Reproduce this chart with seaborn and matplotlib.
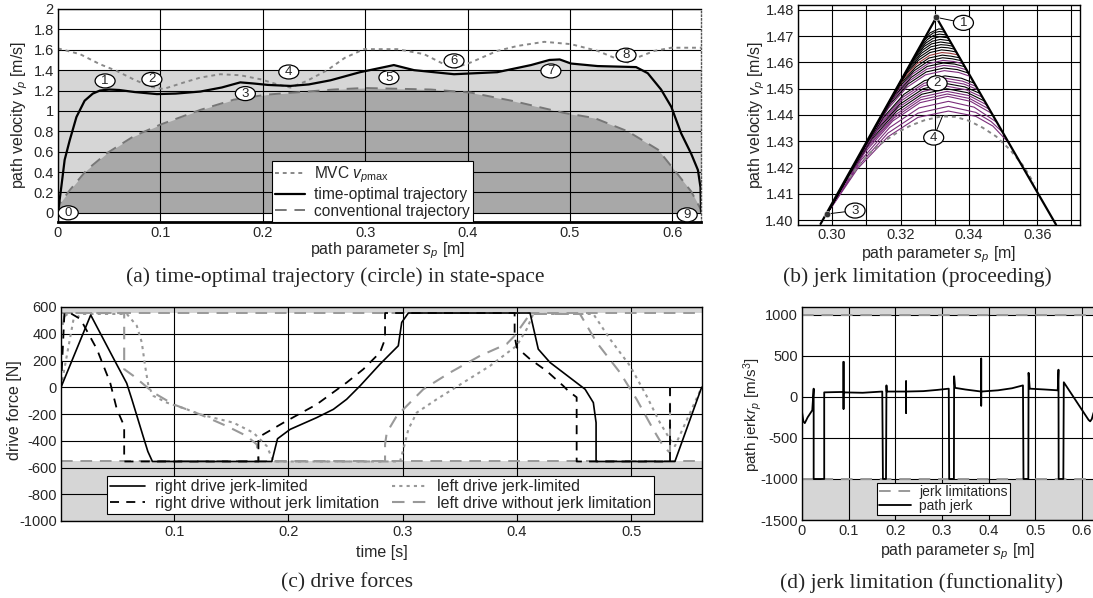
import numpy as np
import matplotlib
matplotlib.use("Agg")
import matplotlib.pyplot as plt
import seaborn as sns
from matplotlib.lines import Line2D
from matplotlib.patches import Ellipse

# ---------------- data ----------------
# (a) state space
mvc_s = [0.000, 0.0215, 0.041, 0.0574, 0.0737, 0.090, 0.103, 0.1226, 0.139, 0.1585, 0.178, 0.198, 0.214,
         0.227, 0.243, 0.263, 0.280, 0.2988, 0.3314, 0.3575, 0.377, 0.3885, 0.403, 0.429, 0.449, 0.475,
         0.501, 0.527, 0.5467, 0.5564, 0.566, 0.5825, 0.599, 0.628]
mvc_v = [1.613, 1.557, 1.458, 1.392, 1.310, 1.238, 1.215, 1.278, 1.327, 1.360, 1.350, 1.310, 1.261,
         1.229, 1.294, 1.400, 1.520, 1.606, 1.606, 1.557, 1.458, 1.425, 1.475, 1.589, 1.638, 1.678,
         1.655, 1.589, 1.507, 1.475, 1.524, 1.589, 1.620, 1.620]

topt_s = [0.000, 0.0033, 0.0065, 0.0114, 0.018, 0.026, 0.034, 0.041, 0.050, 0.060, 0.075, 0.0966, 0.115,
          0.139, 0.160, 0.178, 0.190, 0.205, 0.227, 0.245, 0.266, 0.295, 0.3239, 0.328, 0.3477, 0.3868,
          0.429, 0.462, 0.480, 0.490, 0.501, 0.527, 0.5646, 0.576, 0.589, 0.599, 0.6086, 0.6184,
          0.625, 0.6275, 0.628]
topt_v = [0.000, 0.26, 0.52, 0.71, 0.94, 1.10, 1.17, 1.20, 1.21, 1.205, 1.185, 1.165, 1.17,
          1.19, 1.23, 1.28, 1.27, 1.255, 1.245, 1.26, 1.30, 1.38, 1.441, 1.45, 1.40, 1.36,
          1.38, 1.45, 1.50, 1.505, 1.465, 1.44, 1.43, 1.37, 1.21, 1.04, 0.78, 0.58,
          0.42, 0.25, 0.01]
band_top = 1.40   # upper edge of the light grey region

conv_s = [0.000, 0.002, 0.0117, 0.028, 0.0477, 0.0737, 0.0998, 0.139, 0.1716, 0.204, 0.2694, 0.2988,
          0.364, 0.403, 0.4455, 0.4944, 0.524, 0.5564, 0.586, 0.602, 0.6184, 0.628]
conv_v = [0.000, 0.095, 0.225, 0.42, 0.585, 0.75, 0.865, 1.01, 1.11, 1.16, 1.21, 1.225,
          1.21, 1.18, 1.095, 0.98, 0.93, 0.80, 0.62, 0.42, 0.21, 0.03]

marks_a = ['0', '1', '2', '3', '4', '5', '6', '7', '8', '9']
marks_a_s = [0.010, 0.046, 0.0917, 0.183, 0.2254, 0.3232, 0.3868, 0.4814, 0.5548, 0.6145]
marks_a_v = [0.00, 1.294, 1.31, 1.17, 1.382, 1.327, 1.491, 1.392, 1.547, -0.02]

# (b) jerk limitation, proceeding
left_s = [0.2966, 0.33046]
left_v = [1.3985, 1.4772]
right_s = [0.33046, 0.3655]
right_v = [1.4772, 1.3982]
mvcb_s = [0.3050, 0.3080, 0.3110, 0.3150, 0.3190, 0.3230, 0.3270, 0.3320, 0.3360, 0.3400, 0.3440,
          0.3480, 0.3520, 0.3560, 0.3590]
mvcb_v = [1.4160, 1.4212, 1.4255, 1.4298, 1.4333, 1.4360, 1.4380, 1.4395, 1.4393, 1.4378, 1.4352,
          1.4318, 1.4268, 1.4205, 1.4140]
fan_s = [
    [0.2985, 0.3074, 0.3163, 0.3251, 0.3340, 0.3420, 0.3470, 0.3518],
    [0.2985, 0.3074, 0.3163, 0.3251, 0.3340, 0.3420, 0.3465, 0.3498],
    [0.2985, 0.2997, 0.3083, 0.3168, 0.3254, 0.3340, 0.3415, 0.3482],
    [0.2985, 0.3015, 0.3096, 0.3177, 0.3257, 0.3338, 0.3405, 0.3467],
    [0.2985, 0.3024, 0.3102, 0.3181, 0.3259, 0.3337, 0.3402, 0.3460],
    [0.2985, 0.3033, 0.3109, 0.3185, 0.3260, 0.3336, 0.3400, 0.3453],
    [0.2985, 0.3043, 0.3116, 0.3189, 0.3262, 0.3335, 0.3396, 0.3446],
    [0.2985, 0.3052, 0.3123, 0.3193, 0.3264, 0.3334, 0.3392, 0.3439],
    [0.2985, 0.3062, 0.3130, 0.3198, 0.3266, 0.3333, 0.3388, 0.3433],
    [0.2985, 0.3071, 0.3137, 0.3202, 0.3267, 0.3332, 0.3385, 0.3427],
    [0.2985, 0.3081, 0.3144, 0.3206, 0.3269, 0.3331, 0.3381, 0.3421],
    [0.2985, 0.3090, 0.3150, 0.3210, 0.3270, 0.3330, 0.3378, 0.3416],
    [0.2985, 0.3109, 0.3164, 0.3218, 0.3273, 0.3328, 0.3370, 0.3404],
    [0.2985, 0.3118, 0.3170, 0.3222, 0.3275, 0.3327, 0.3366, 0.3398],
    [0.2985, 0.3128, 0.3177, 0.3227, 0.3277, 0.3326, 0.3362, 0.3393],
    [0.2985, 0.3137, 0.3184, 0.3231, 0.3278, 0.3325, 0.3358, 0.3388],
    [0.2985, 0.3146, 0.3191, 0.3235, 0.3280, 0.3324, 0.3355, 0.3383],
    [0.2985, 0.3155, 0.3197, 0.3240, 0.3282, 0.3323, 0.3351, 0.3378],
    [0.2985, 0.3165, 0.3204, 0.3244, 0.3283, 0.3322, 0.3348, 0.3373],
    [0.2985, 0.3174, 0.3211, 0.3248, 0.3285, 0.3321, 0.3345, 0.3368],
    [0.2985, 0.3184, 0.3218, 0.3252, 0.3286, 0.3320, 0.3342, 0.3363],
    [0.2985, 0.3193, 0.3225, 0.3256, 0.3288, 0.3319, 0.3339, 0.3358],
    [0.2985, 0.3203, 0.3232, 0.3261, 0.3289, 0.3318, 0.3336, 0.3353],
    [0.2985, 0.3212, 0.3239, 0.3265, 0.3291, 0.3317, 0.3349],
    [0.2985, 0.3222, 0.3246, 0.3269, 0.3293, 0.3316, 0.3344],
    [0.2985, 0.3232, 0.3253, 0.3274, 0.3295, 0.3315, 0.3339],
    [0.2985, 0.3242, 0.3260, 0.3278, 0.3296, 0.3314, 0.3334],
    [0.2985, 0.3251, 0.3273, 0.3295, 0.3313, 0.3330],
    [0.2985, 0.3261, 0.3286, 0.3312, 0.3325],
]
fan_v = [
    [1.4023, 1.4195, 1.4317, 1.4391, 1.4415, 1.4395, 1.4358, 1.4292],
    [1.4023, 1.4202, 1.4331, 1.4407, 1.4433, 1.4410, 1.4375, 1.4335],
    [1.4023, 1.4050, 1.4226, 1.4352, 1.4427, 1.4452, 1.4430, 1.4372],
    [1.4023, 1.4093, 1.4258, 1.4377, 1.4447, 1.4471, 1.4452, 1.4406],
    [1.4023, 1.4115, 1.4275, 1.4389, 1.4458, 1.4480, 1.4463, 1.4422],
    [1.4023, 1.4136, 1.4291, 1.4401, 1.4468, 1.4490, 1.4474, 1.4438],
    [1.4023, 1.4158, 1.4308, 1.4415, 1.4479, 1.4500, 1.4485, 1.4453],
    [1.4023, 1.4180, 1.4325, 1.4428, 1.4489, 1.4510, 1.4496, 1.4468],
    [1.4023, 1.4203, 1.4342, 1.4441, 1.4500, 1.4520, 1.4507, 1.4482],
    [1.4023, 1.4225, 1.4358, 1.4454, 1.4511, 1.4530, 1.4518, 1.4496],
    [1.4023, 1.4247, 1.4375, 1.4467, 1.4521, 1.4540, 1.4529, 1.4509],
    [1.4023, 1.4268, 1.4391, 1.4479, 1.4531, 1.4549, 1.4540, 1.4521],
    [1.4023, 1.4313, 1.4425, 1.4505, 1.4553, 1.4569, 1.4562, 1.4547],
    [1.4023, 1.4335, 1.4442, 1.4518, 1.4564, 1.4579, 1.4573, 1.4560],
    [1.4023, 1.4357, 1.4459, 1.4531, 1.4575, 1.4589, 1.4584, 1.4572],
    [1.4023, 1.4378, 1.4475, 1.4543, 1.4585, 1.4598, 1.4594, 1.4584],
    [1.4023, 1.4400, 1.4491, 1.4556, 1.4595, 1.4608, 1.4604, 1.4595],
    [1.4023, 1.4422, 1.4508, 1.4569, 1.4606, 1.4618, 1.4614, 1.4607],
    [1.4023, 1.4444, 1.4525, 1.4582, 1.4617, 1.4628, 1.4624, 1.4618],
    [1.4023, 1.4466, 1.4542, 1.4595, 1.4627, 1.4638, 1.4635, 1.4629],
    [1.4023, 1.4489, 1.4559, 1.4608, 1.4638, 1.4648, 1.4645, 1.4640],
    [1.4023, 1.4511, 1.4576, 1.4621, 1.4649, 1.4658, 1.4656, 1.4651],
    [1.4023, 1.4534, 1.4593, 1.4635, 1.4660, 1.4668, 1.4666, 1.4662],
    [1.4023, 1.4556, 1.4610, 1.4648, 1.4671, 1.4678, 1.4672],
    [1.4023, 1.4579, 1.4626, 1.4661, 1.4681, 1.4688, 1.4683],
    [1.4023, 1.4601, 1.4643, 1.4674, 1.4692, 1.4698, 1.4694],
    [1.4023, 1.4623, 1.4660, 1.4687, 1.4703, 1.4708, 1.4705],
    [1.4023, 1.4645, 1.4690, 1.4712, 1.4718, 1.4716],
    [1.4023, 1.4668, 1.4713, 1.4728, 1.4726],
]
fan_col = ['p', 'p', 'p', 'p', 'p', 'p', 'k', 'p', 'k', 'p', 'p', 'k', 'p', 'k', 'p',
           'k', 'p', 'k', 'k', 'r', 'k', 'k', 'k', 'k', 'k', 'k', 'k', 'k', 'k']
pts_b_s = [0.33046, 0.2985]
pts_b_v = [1.4772, 1.4023]
marks_b = ['1', '2', '3', '4']
marks_b_s = [0.3384, 0.3307, 0.3067, 0.3297]
marks_b_v = [1.4751, 1.4521, 1.4036, 1.4314]
lead_b = [(0, 0.33046, 1.4772), (2, 0.2985, 1.4023), (3, 0.3323, 1.4397)]

# (c) drive forces
force_lim = 555
rjl_t = [0.001, 0.027, 0.047, 0.0585, 0.063, 0.068, 0.073, 0.077, 0.081, 0.1855, 0.1905, 0.2015, 0.2248,
         0.2394, 0.251, 0.2627, 0.2802, 0.2962, 0.2992, 0.3050, 0.4115, 0.4187, 0.4290, 0.4597, 0.4669,
         0.4693, 0.4693, 0.5383, 0.5617]
rjl_f = [0, 540, 215, 30, -90, -230, -370, -480, -555, -555, -385, -315, -227,
         -165, -90, 10, 173, 310, 485, 555, 555, 285, 185, -15, -115,
         -265, -555, -555, 0]
rno_t = [0.001, 0.004, 0.009, 0.018, 0.0324, 0.044, 0.0499, 0.0563, 0.0563, 0.1738, 0.1738, 0.178, 0.1957,
         0.2248, 0.251, 0.2656, 0.2802, 0.2846, 0.2846, 0.398, 0.398, 0.3998, 0.4115, 0.426, 0.4406,
         0.445, 0.4523, 0.4523, 0.534, 0.534]
rno_f = [0, 555, 555, 510, 285, 35, -165, -290, -555, -555, -377, -353, -265,
         -128, 35, 135, 260, 360, 555, 555, 385, 298, 210, 122, 10,
         -28, -75, -555, -555, 0]
ljl_t = [0.001, 0.012, 0.020, 0.0586, 0.0673, 0.0717, 0.0746, 0.0775, 0.0819, 0.0936, 0.1111, 0.1227,
         0.1519, 0.1694, 0.1811, 0.1869, 0.2977, 0.3006, 0.305, 0.3123, 0.3298, 0.3531, 0.3765, 0.3998,
         0.4086, 0.4143, 0.4669, 0.4815, 0.499, 0.5135, 0.5252, 0.534, 0.5383, 0.5617]
ljl_f = [0, 510, 548, 548, 460, 335, 160, 10, -65, -115, -165, -203,
         -265, -340, -440, -555, -555, -465, -315, -190, -90, 35, 160, 310,
         435, 548, 548, 360, 160, -65, -265, -390, -440, 0]
lno_t = [0.001, 0.001, 0.004, 0.008, 0.0563, 0.0563, 0.0644, 0.0819, 0.0994, 0.1227, 0.146, 0.1636, 0.1724,
         0.1738, 0.2846, 0.2846, 0.2861, 0.2948, 0.3181, 0.3415, 0.3677, 0.391, 0.398, 0.4115, 0.4552,
         0.4698, 0.4902, 0.5048, 0.5193, 0.528, 0.534, 0.534]
lno_f = [0, 400, 530, 555, 555, 135, 85, -40, -128, -203, -290, -365, -428,
         -555, -555, -428, -340, -215, -15, 110, 235, 323, 385, 548, 548,
         335, 110, -90, -315, -440, -490, 0]

# (d) path jerk
jerk_lim = 1000
jerk_s = [0.000, 0.003, 0.006, 0.012, 0.022, 0.025, 0.025, 0.0476, 0.0476, 0.070, 0.089, 0.089, 0.089,
          0.089, 0.130, 0.172, 0.1734, 0.180, 0.181, 0.1815, 0.223, 0.223, 0.223, 0.223, 0.260, 0.290,
          0.3145, 0.3154, 0.3255, 0.326, 0.328, 0.350, 0.384, 0.384, 0.384, 0.384, 0.420, 0.450,
          0.4735, 0.4746, 0.485, 0.4855, 0.488, 0.520, 0.548, 0.5496, 0.550, 0.560, 0.561, 0.614,
          0.6175, 0.621, 0.6244, 0.630]
jerk_v = [-180, -300, -320, -250, -163, 100, -1000, -1000, 55, 58, 60, -146, 427,
          55, 50, 65, -1000, -1000, 140, 65, 65, -195, 190, 65, 70, 85,
          100, -1000, -1000, 251, 110, 90, 65, -106, 467, 65, 80, 105,
          140, -1000, -1000, 293, 100, 90, 80, 331, -1000, -1000, 178, -280,
          -298, -270, -200, -120]

# ---------------- style ----------------
sns.set_style("white")
plt.rcParams['font.family'] = ['Liberation Sans', 'DejaVu Sans']
plt.rcParams['mathtext.fontset'] = 'custom'
plt.rcParams['mathtext.rm'] = 'Liberation Sans'
plt.rcParams['mathtext.it'] = 'Liberation Sans:italic'
plt.rcParams['axes.unicode_minus'] = False

W, H = 1093, 598
fig = plt.figure(figsize=(W / 100, H / 100), dpi=100)

TICK = 10.5
LAB = 11.5


def box(l, r, t, b):
    return [l / W, 1 - b / H, (r - l) / W, (b - t) / H]


def line(ax, x, y, **kw):
    sns.lineplot(x=x, y=y, ax=ax, sort=False, estimator=None, legend=False, **kw)


def frame(ax):
    ax.grid(True, color='black', lw=0.8)
    ax.set_axisbelow('line')
    ax.tick_params(length=0, labelsize=TICK, pad=3)
    for sp in ax.spines.values():
        sp.set_color('black')
        sp.set_linewidth(1.0)


def circled(ax, x, y, txt, wpx, hpx, axw, axh):
    x0, x1 = ax.get_xlim()
    y0, y1 = ax.get_ylim()
    w = wpx * (x1 - x0) / axw
    h = hpx * (y1 - y0) / axh
    ax.add_patch(Ellipse((x, y), w, h, fc='white', ec='black', lw=0.9, zorder=6))
    ax.text(x, y, txt, ha='center', va='center', fontsize=9.5, zorder=7)


GRAY = '#999999'
PURPLE = '#7b2d7b'

# ---- (a) ----
ax = fig.add_axes(box(58, 701, 9, 222))
frame(ax)
ax.set_xlim(0, 0.628)
ax.set_ylim(-0.09, 2.0)
ax.fill_between(topt_s, 0, np.maximum(topt_v, band_top), color='#d6d6d6', lw=0, zorder=1)
ax.fill_between(conv_s, 0, conv_v, color='#a8a8a8', lw=0, zorder=1)
line(ax, mvc_s, mvc_v, color='#888888', lw=1.4, linestyle=(0, (2, 2)))
line(ax, conv_s, conv_v, color='#777777', lw=1.4, linestyle=(0, (6, 4)))
line(ax, topt_s, topt_v, color='black', lw=1.6)
for m, x, y in zip(marks_a, marks_a_s, marks_a_v):
    circled(ax, x, y, m, 20, 14, 643, 213)
ax.set_xticks([0, 0.1, 0.2, 0.3, 0.4, 0.5, 0.6])
ax.set_xticklabels(['0', '0.1', '0.2', '0.3', '0.4', '0.5', '0.6'])
ax.set_yticks([0, 0.2, 0.4, 0.6, 0.8, 1, 1.2, 1.4, 1.6, 1.8, 2])
ax.set_yticklabels(['0', '0.2', '0.4', '0.6', '0.8', '1', '1.2', '1.4', '1.6', '1.8', '2'])
ax.spines['bottom'].set_linewidth(2.0)
ax.spines['right'].set_linestyle(':')
ax.spines['right'].set_color('#555555')
ax.set_xlabel(r'path parameter $s_p$ [m]', fontsize=LAB)
ax.xaxis.set_label_coords((388 - 58) / 643, (222 - 251) / 213)
ax.xaxis.label.set_va('center')
ax.set_ylabel(r'path velocity $v_p$ [m/s]', fontsize=LAB)
ax.yaxis.set_label_coords((20 - 58) / 643, (222 - 115) / 213)
ax.yaxis.label.set_va('center')
ha = [Line2D([], [], color='#888888', lw=1.4, linestyle=(0, (2, 2))),
      Line2D([], [], color='black', lw=1.6),
      Line2D([], [], color='#777777', lw=1.4, linestyle=(0, (6, 4)))]
leg = ax.legend(ha, [r'MVC $v_{p\mathrm{max}}$', 'time-optimal trajectory', 'conventional trajectory'],
                loc='lower left', bbox_to_anchor=((272 - 58) / 643, 0.0), fontsize=11.2, frameon=True,
                fancybox=False, framealpha=1, edgecolor='black', borderpad=0.2, labelspacing=0.12,
                handlelength=1.9, handletextpad=0.6, borderaxespad=0)
leg.get_frame().set_linewidth(0.8)
leg.set_zorder(8)

# ---- (b) ----
ax = fig.add_axes(box(798, 1080, 5, 225))
frame(ax)
ax.set_xlim(0.29, 0.3725)
ax.set_ylim(1.3981, 1.4819)
cmap = {'p': PURPLE, 'k': 'black', 'r': '#9a3a3a'}
for xs, ys, c in zip(fan_s, fan_v, fan_col):
    line(ax, xs, ys, color=cmap[c], lw=0.8)
line(ax, mvcb_s, mvcb_v, color='#888888', lw=1.4, linestyle=(0, (2, 2)))
line(ax, left_s, left_v, color='black', lw=1.6)
line(ax, right_s, right_v, color='black', lw=1.6)
sns.scatterplot(x=pts_b_s, y=pts_b_v, ax=ax, color='#333333', s=22, zorder=5, legend=False)
for i, x0, y0 in lead_b:
    ax.plot([marks_b_s[i], x0], [marks_b_v[i], y0], color='black', lw=0.7, zorder=4)
for m, x, y in zip(marks_b, marks_b_s, marks_b_v):
    circled(ax, x, y, m, 20, 15, 282, 220)
ax.set_xticks([0.29, 0.30, 0.31, 0.32, 0.33, 0.34, 0.35, 0.36, 0.37])
ax.set_xticklabels(['', '0.30', '', '0.32', '', '0.34', '', '0.36', ''])
ax.set_yticks([1.40, 1.41, 1.42, 1.43, 1.44, 1.45, 1.46, 1.47, 1.48])
ax.set_yticklabels(['1.40', '1.41', '1.42', '1.43', '1.44', '1.45', '1.46', '1.47', '1.48'])
ax.tick_params(axis='x', pad=2)
ax.set_xlabel(r'path parameter $s_p$ [m]', fontsize=LAB)
ax.xaxis.set_label_coords((939 - 798) / 282, (225 - 255) / 220)
ax.xaxis.label.set_va('center')
ax.set_ylabel(r'path velocity $v_p$ [m/s]', fontsize=LAB)
ax.yaxis.set_label_coords((757 - 798) / 282, (225 - 115) / 220)
ax.yaxis.label.set_va('center')

# ---- (c) ----
ax = fig.add_axes(box(61, 702, 307, 521))
frame(ax)
ax.axhspan(force_lim, 600, color='#d6d6d6', lw=0, zorder=1)
ax.axhspan(-1000, -force_lim, color='#d6d6d6', lw=0, zorder=1)
ax.axhline(force_lim, color=GRAY, lw=1.4, linestyle=(0, (6, 4)), zorder=2)
ax.axhline(-force_lim, color=GRAY, lw=1.4, linestyle=(0, (6, 4)), zorder=2)
line(ax, ljl_t, ljl_f, color=GRAY, lw=1.5, linestyle=(0, (1.5, 2)))
line(ax, lno_t, lno_f, color=GRAY, lw=1.5, linestyle=(0, (6, 4)))
line(ax, rno_t, rno_f, color='black', lw=1.3, linestyle=(0, (5, 4)))
line(ax, rjl_t, rjl_f, color='black', lw=1.2)
ax.set_xlim(0.001, 0.562)
ax.set_ylim(-1000, 600)
ax.set_xticks([0.1, 0.2, 0.3, 0.4, 0.5])
ax.set_xticklabels(['0.1', '0.2', '0.3', '0.4', '0.5'])
ax.set_yticks([-1000, -800, -600, -400, -200, 0, 200, 400, 600])
ax.set_yticklabels(['-1000', '-800', '-600', '-400', '-200', '0', '200', '400', '600'])
ax.set_xlabel('time [s]', fontsize=LAB)
ax.xaxis.set_label_coords((381.5 - 61) / 641, (521 - 552) / 214)
ax.xaxis.label.set_va('center')
ax.set_ylabel('drive force [N]', fontsize=LAB)
ax.yaxis.set_label_coords((15 - 61) / 641, (521 - 410) / 214)
ax.yaxis.label.set_va('center')
hc = [Line2D([], [], color='black', lw=1.2),
      Line2D([], [], color='black', lw=1.3, linestyle=(0, (5, 4))),
      Line2D([], [], color=GRAY, lw=1.5, linestyle=(0, (1.5, 2))),
      Line2D([], [], color=GRAY, lw=1.5, linestyle=(0, (6, 4)))]
leg = ax.legend(hc, ['right drive jerk-limited', 'right drive without jerk limitation',
                     'left drive jerk-limited', 'left drive without jerk limitation'],
                ncol=2, loc='lower left', bbox_to_anchor=((107 - 61) / 641, (521 - 514) / 214),
                fontsize=11.5, frameon=True, fancybox=False, framealpha=1, edgecolor='black',
                borderpad=0.2, labelspacing=0.1, handlelength=2.2, handletextpad=0.6,
                columnspacing=0.8, borderaxespad=0)
leg.get_frame().set_linewidth(0.8)

# ---- (d) ----
ax = fig.add_axes(box(802, 1096, 307, 520))
frame(ax)
ax.axhspan(jerk_lim, 1100, color='#d6d6d6', lw=0, zorder=1)
ax.axhspan(-1500, -jerk_lim, color='#d6d6d6', lw=0, zorder=1)
ax.axhline(jerk_lim, color=GRAY, lw=1.4, linestyle=(0, (6, 4)), zorder=2)
ax.axhline(-jerk_lim, color=GRAY, lw=1.4, linestyle=(0, (6, 4)), zorder=2)
line(ax, jerk_s, jerk_v, color='black', lw=1.3)
ax.set_xlim(0, 0.63)
ax.set_ylim(-1500, 1095)
ax.set_xticks([0, 0.1, 0.2, 0.3, 0.4, 0.5, 0.6])
ax.set_xticklabels(['0', '0.1', '0.2', '0.3', '0.4', '0.5', '0.6'])
ax.set_yticks([-1500, -1000, -500, 0, 500, 1000])
ax.set_yticklabels(['-1500', '-1000', '-500', '0', '500', '1000'])
ax.set_xlabel(r'path parameter $s_p$ [m]', fontsize=LAB)
ax.xaxis.set_label_coords((958 - 802) / 294, (520 - 552) / 213)
ax.xaxis.label.set_va('center')
ax.set_ylabel(r'path jerk$r_p$ [m/s$^3$]', fontsize=11)
ax.yaxis.set_label_coords((753 - 802) / 294, (520 - 415) / 213)
ax.yaxis.label.set_va('center')
hd = [Line2D([], [], color=GRAY, lw=1.4, linestyle=(0, (6, 4))),
      Line2D([], [], color='black', lw=1.3)]
leg = ax.legend(hd, ['jerk limitations', 'path jerk'], loc='lower left',
                bbox_to_anchor=((877 - 802) / 294, (520 - 515) / 213), fontsize=10, frameon=True,
                fancybox=False, framealpha=1, edgecolor='black', borderpad=0.15, labelspacing=0.0,
                handlelength=2.3, handletextpad=0.6, borderaxespad=0)
leg.get_frame().set_linewidth(0.8)

# ---- captions ----
cap = dict(fontsize=15.5, family=['Liberation Serif', 'DejaVu Serif'], ha='center', va='center')
fig.text(335 / W, 1 - 277 / H, '(a) time-optimal trajectory (circle) in state-space', **cap)
fig.text(917 / W, 1 - 277 / H, '(b) jerk limitation (proceeding)', **cap)
fig.text(347 / W, 1 - 583 / H, '(c) drive forces', **cap)
fig.text(922 / W, 1 - 583 / H, '(d) jerk limitation (functionality)', **cap)

fig.savefig('out.png', dpi=100)
